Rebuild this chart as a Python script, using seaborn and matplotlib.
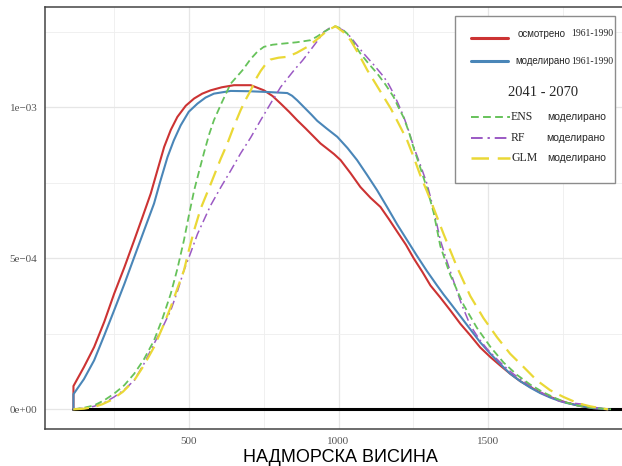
import matplotlib
matplotlib.use("Agg")
import matplotlib.pyplot as plt
from matplotlib.lines import Line2D
from matplotlib.patches import Rectangle
from matplotlib.ticker import FixedLocator
import seaborn as sns

# ---- data (density values in units of 1e-3) ----
red_x = [115, 115, 150, 184, 218, 251, 285, 318, 345, 373, 395, 418, 440, 462, 490, 518, 545, 573, 610,
         651, 707, 751, 780, 807, 835, 862, 890, 918, 940, 962, 985, 1007, 1040, 1073, 1107, 1140, 1168,
         1196, 1225, 1251, 1280, 1307, 1340, 1373, 1407, 1440, 1473, 1507, 1540, 1573, 1607, 1640, 1673,
         1707, 1740, 1762, 1807, 1850, 1900]
red_y = [0, 0.077, 0.140, 0.206, 0.290, 0.383, 0.470, 0.560, 0.635, 0.714, 0.790, 0.869, 0.925, 0.968,
         1.005, 1.029, 1.045, 1.056, 1.066, 1.073, 1.073, 1.056, 1.037, 1.012, 0.985, 0.957, 0.930, 0.902,
         0.880, 0.863, 0.845, 0.825, 0.782, 0.736, 0.700, 0.670, 0.630, 0.588, 0.545, 0.500, 0.455, 0.410,
         0.370, 0.328, 0.283, 0.245, 0.205, 0.173, 0.145, 0.118, 0.093, 0.074, 0.056, 0.041, 0.029, 0.022,
         0.011, 0.004, 0]

blue_x = [115, 115, 150, 184, 218, 251, 285, 318, 350, 384, 405, 429, 450, 473, 500, 529, 556, 584, 640,
          700, 751, 790, 829, 845, 862, 884, 910, 929, 960, 996, 1030, 1062, 1096, 1129, 1162, 1196, 1229,
          1262, 1295, 1329, 1351, 1373, 1407, 1440, 1473, 1507, 1540, 1573, 1607, 1640, 1673, 1707, 1740,
          1762, 1807, 1850, 1900]
blue_y = [0, 0.050, 0.100, 0.162, 0.245, 0.328, 0.415, 0.504, 0.590, 0.681, 0.755, 0.835, 0.890, 0.940,
          0.985, 1.012, 1.032, 1.045, 1.054, 1.053, 1.051, 1.049, 1.047, 1.038, 1.023, 1.001, 0.975, 0.955,
          0.930, 0.902, 0.865, 0.825, 0.775, 0.725, 0.670, 0.612, 0.560, 0.508, 0.458, 0.410, 0.380, 0.352,
          0.308, 0.265, 0.222, 0.184, 0.150, 0.118, 0.093, 0.072, 0.054, 0.039, 0.027, 0.021, 0.011, 0.004, 0]

green_x = [115, 150, 184, 218, 251, 285, 318, 350, 384, 412, 440, 462, 484, 500, 518, 535, 551, 568, 584,
           610, 640, 679, 707, 730, 751, 780, 818, 860, 907, 930, 951, 970, 990, 1010, 1029, 1050, 1073,
           1100, 1129, 1157, 1184, 1200, 1218, 1235, 1251, 1273, 1296, 1318, 1340, 1373, 1418, 1462, 1507,
           1551, 1596, 1640, 1684, 1729, 1762, 1800, 1840, 1884, 1910]
green_y = [0, 0.005, 0.013, 0.030, 0.052, 0.080, 0.118, 0.165, 0.228, 0.300, 0.383, 0.465, 0.560, 0.640,
           0.725, 0.790, 0.850, 0.910, 0.957, 1.015, 1.078, 1.122, 1.160, 1.185, 1.200, 1.207, 1.211, 1.215,
           1.222, 1.235, 1.249, 1.260, 1.268, 1.260, 1.244, 1.213, 1.178, 1.145, 1.112, 1.075, 1.034, 1.000,
           0.965, 0.918, 0.865, 0.800, 0.730, 0.650, 0.540, 0.445, 0.345, 0.270, 0.207, 0.155, 0.114, 0.082,
           0.056, 0.035, 0.022, 0.012, 0.006, 0.002, 0]

purple_x = [115, 150, 184, 218, 251, 285, 318, 350, 384, 412, 440, 462, 484, 507, 529, 573, 607, 640, 673,
            707, 740, 773, 807, 851, 880, 907, 930, 951, 970, 990, 1015, 1040, 1062, 1084, 1118, 1151, 1168,
            1184, 1200, 1218, 1235, 1251, 1273, 1296, 1318, 1340, 1362, 1384, 1410, 1440, 1470, 1496, 1525,
            1551, 1580, 1607, 1630, 1651, 1680, 1707, 1735, 1760, 1785, 1807, 1830, 1851, 1895]
purple_y = [0, 0.004, 0.010, 0.022, 0.041, 0.065, 0.096, 0.150, 0.217, 0.270, 0.328, 0.390, 0.460, 0.520,
            0.580, 0.675, 0.735, 0.790, 0.847, 0.900, 0.957, 1.012, 1.067, 1.122, 1.155, 1.190, 1.220, 1.249,
            1.262, 1.268, 1.255, 1.233, 1.205, 1.178, 1.140, 1.101, 1.075, 1.045, 1.010, 0.968, 0.920, 0.869,
            0.810, 0.745, 0.660, 0.560, 0.490, 0.425, 0.350, 0.278, 0.232, 0.200, 0.170, 0.145, 0.120, 0.100,
            0.085, 0.070, 0.054, 0.040, 0.028, 0.022, 0.020, 0.018, 0.012, 0.007, 0]

yellow_x = [115, 150, 184, 212, 240, 280, 318, 350, 384, 412, 440, 462, 484, 500, 518, 540, 573, 607, 629,
            650, 673, 690, 707, 725, 740, 757, 773, 800, 829, 860, 896, 925, 951, 970, 990, 1015, 1040, 1068,
            1096, 1124, 1151, 1175, 1196, 1229, 1251, 1273, 1296, 1318, 1351, 1396, 1440, 1484, 1529, 1573,
            1618, 1662, 1707, 1751, 1800, 1840, 1873, 1900]
yellow_y = [0, 0.002, 0.008, 0.017, 0.030, 0.058, 0.096, 0.145, 0.206, 0.270, 0.339, 0.400, 0.460, 0.525,
            0.593, 0.665, 0.745, 0.830, 0.880, 0.935, 0.990, 1.025, 1.056, 1.095, 1.120, 1.143, 1.158, 1.164,
            1.167, 1.180, 1.200, 1.222, 1.244, 1.258, 1.268, 1.250, 1.222, 1.175, 1.123, 1.078, 1.034, 0.995,
            0.955, 0.891, 0.835, 0.775, 0.720, 0.665, 0.580, 0.470, 0.375, 0.302, 0.239, 0.184, 0.140, 0.096,
            0.063, 0.041, 0.020, 0.010, 0.004, 0]

baseline_x = [115, 1960]
baseline_y = [0, 0]

x_ticks = [500, 1000, 1500]
y_ticks = [0, 0.5e-3, 1e-3]
y_tick_labels = ["0e+00", "5e\u221204", "1e\u221203"]
x_label = "НАДМОРСКА ВИСИНА"

legend_top = [("осмотрено", "1961-1990"), ("моделирано", "1961-1990")]
legend_title = "2041 - 2070"
legend_models = [("ENS", "моделирано"), ("RF", "моделирано"), ("GLM", "моделирано")]

C_RED = "#CC3333"
C_BLUE = "#4A86B8"
C_GREEN = "#66C25A"
C_PURPLE = "#9B59C4"
C_YELLOW = "#EAD836"

sns.set_style("white")
plt.rcParams["font.family"] = ["Liberation Sans", "DejaVu Sans"]

W, H = 622, 466
fig = plt.figure(figsize=(W / 100, H / 100), dpi=100)
# axes placed in pixel geometry (right side continues past the crop)
L, R, T, B = 45, 635, 6.5, 428.5
ax = fig.add_axes([L / W, 1 - B / H, (R - L) / W, (B - T) / H])


def scale(v):
    return [e * 1e-3 for e in v]


def draw(x, y, color, lw, dashes=None):
    sns.lineplot(x=x, y=y, ax=ax, color=color, lw=lw, sort=False, estimator=None)
    ln = ax.lines[-1]
    ln.set_solid_joinstyle("round")
    if dashes:
        ln.set_dashes(dashes)


draw(baseline_x, baseline_y, "black", 2.2)
draw(red_x, scale(red_y), C_RED, 1.5)
draw(blue_x, scale(blue_y), C_BLUE, 1.5)
draw(purple_x, scale(purple_y), C_PURPLE, 1.1, [6, 2.5, 1.2, 2.5])
draw(green_x, scale(green_y), C_GREEN, 1.3, [4, 2.2])
draw(yellow_x, scale(yellow_y), C_YELLOW, 1.6, [7, 3.5])

ax.set_xlim(20, 1990)
ax.set_ylim(-0.0635e-3, 1.3335e-3)

ax.xaxis.set_major_locator(FixedLocator(x_ticks))
ax.xaxis.set_minor_locator(FixedLocator([250, 750, 1250, 1750]))
ax.yaxis.set_major_locator(FixedLocator(y_ticks))
ax.yaxis.set_minor_locator(FixedLocator([0.25e-3, 0.75e-3, 1.25e-3]))
ax.set_xticklabels([str(t) for t in x_ticks])
ax.set_yticklabels(y_tick_labels)

ax.grid(True, which="major", color="#E6E6E6", lw=0.9)
ax.grid(True, which="minor", color="#EEEEEE", lw=0.6)
ax.set_axisbelow(True)

ax.tick_params(axis="x", which="both", length=0, pad=6, labelsize=8, labelcolor="#555555")
ax.tick_params(axis="y", which="both", length=3.5, width=1, color="#444444", pad=2,
               labelsize=8, labelcolor="#555555")
for lab in ax.get_xticklabels() + ax.get_yticklabels():
    lab.set_fontfamily("Liberation Serif")

for s in ax.spines.values():
    s.set_color("#444444")
    s.set_linewidth(1.1)

ax.set_xlabel(x_label, fontsize=13, color="black", labelpad=2)
ax.set_ylabel("")


# ---- legend drawn in pixel coordinates ----
def fx(px):
    return px / W


def fy(py):
    return 1 - py / H


fig.add_artist(Rectangle((fx(455), fy(183)), fx(615) - fx(455), fy(16) - fy(183),
                         transform=fig.transFigure, facecolor="white", edgecolor="#8C8C8C", lw=1.0))


def key(y, color, lw, dashes=None, x0=471, x1=508):
    ln = Line2D([fx(x0), fx(x1)], [fy(y), fy(y)], transform=fig.transFigure, color=color, lw=lw)
    if dashes:
        ln.set_dashes(dashes)
    fig.add_artist(ln)


key(38, C_RED, 2.2)
key(61, C_BLUE, 2.2)
key(117, C_GREEN, 1.4, [4, 2.2], 471, 510)
key(138, C_PURPLE, 1.4, [6, 2.5, 1.2, 2.5])
key(158, C_YELLOW, 1.8, [7, 3.5], 471, 510)

sans = ["Liberation Sans", "DejaVu Sans"]
serif = ["Liberation Serif", "DejaVu Serif"]
for (word, years), y, x0 in zip(legend_top, [34, 61], [518, 515]):
    fig.text(fx(x0), fy(y), word, family=sans, fontsize=7, va="center", ha="left")
    fig.text(fx(571), fy(y), years, family=serif, fontsize=7, va="center", ha="left")

fig.text(fx(543), fy(92), legend_title, family=serif, fontsize=10.5, va="center", ha="center")
for (name, word), y, xw in zip(legend_models, [117, 138, 158], [547, 546, 547]):
    fig.text(fx(511), fy(y), name, family=serif, fontsize=8.5, va="center", ha="left")
    fig.text(fx(xw), fy(y), word, family=sans, fontsize=7.5, va="center", ha="left")

fig.savefig("out.png", dpi=100)
